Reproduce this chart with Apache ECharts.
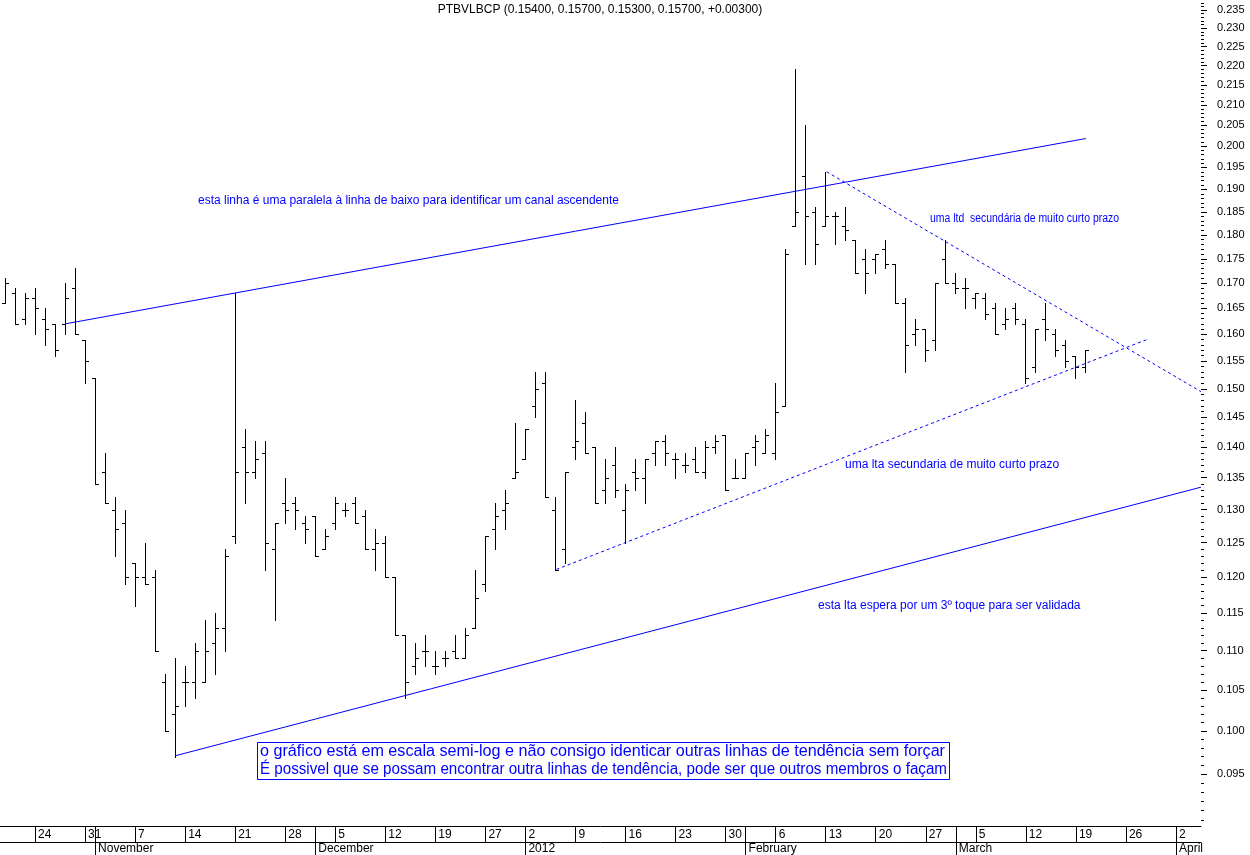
<!DOCTYPE html>
<html><head><meta charset="utf-8">
<script src="https://cdn.jsdelivr.net/npm/echarts@6/dist/echarts.min.js"></script>
<style>html,body{margin:0;padding:0;background:#fff}#c{width:1250px;height:855px}</style>
</head><body><div id="c"></div>
<script>
// ---------- DATA ----------
const firstDay = '2011-10-19';
const lastDay = '2012-04-04';
const holidays = ['2011-12-26'];
const monthNames = ['January','February','March','April','May','June','July','August','September','October','November','December'];

const opens = [0.166,0.168,0.163,0.167,0.163,0.162,0.162,0.169,0.159,0.152,
0.136,0.130,0.128,0.122,0.120,0.120,0.106,0.102,0.106,0.106,
0.106,0.111,0.113,0.126,0.140,0.136,0.139,0.124,0.131,0.131,
0.128,0.129,0.124,0.128,0.130,0.131,0.129,0.124,0.125,0.120,
0.112,0.108,0.110,0.108,0.109,0.110,0.109,0.113,0.119,0.127,
0.130,0.135,0.138,0.147,0.151,0.130,0.124,0.140,0.144,0.140,
0.133,0.137,0.130,0.136,0.135,0.139,0.141,0.138,0.137,0.138,
0.136,0.140,0.142,0.135,0.135,0.140,0.139,0.139,0.147,0.182,
0.193,0.185,0.182,0.184,0.182,0.179,0.175,0.175,0.177,0.174,
0.166,0.160,0.161,0.159,0.175,0.170,0.169,0.167,0.167,0.165,
0.162,0.165,0.162,0.154,0.163,0.160,0.158,0.156,0.154];
const highs = [0.171,0.169,0.168,0.169,0.165,0.162,0.170,0.173,0.159,0.152,
0.139,0.132,0.130,0.122,0.125,0.121,0.107,0.109,0.108,0.111,
0.114,0.115,0.124,0.168,0.143,0.141,0.141,0.128,0.135,0.132,
0.129,0.129,0.127,0.132,0.131,0.132,0.130,0.127,0.126,0.120,
0.112,0.111,0.112,0.110,0.110,0.112,0.113,0.121,0.126,0.131,
0.133,0.144,0.143,0.153,0.153,0.132,0.136,0.148,0.146,0.140,
0.138,0.140,0.134,0.138,0.138,0.141,0.142,0.139,0.139,0.140,
0.141,0.142,0.142,0.138,0.139,0.142,0.143,0.151,0.177,0.219,
0.205,0.186,0.194,0.185,0.186,0.179,0.177,0.176,0.179,0.174,
0.167,0.163,0.161,0.170,0.179,0.172,0.171,0.168,0.168,0.166,
0.165,0.166,0.163,0.161,0.166,0.161,0.159,0.156,0.157];
const lows = [0.166,0.162,0.162,0.160,0.158,0.156,0.160,0.160,0.151,0.134,
0.131,0.123,0.119,0.116,0.119,0.110,0.100,0.097,0.103,0.104,
0.106,0.107,0.110,0.125,0.131,0.135,0.121,0.114,0.128,0.127,
0.125,0.123,0.124,0.127,0.129,0.128,0.124,0.121,0.120,0.112,
0.104,0.107,0.108,0.107,0.108,0.109,0.109,0.113,0.118,0.124,
0.127,0.135,0.138,0.145,0.132,0.121,0.122,0.138,0.139,0.131,
0.131,0.132,0.125,0.133,0.131,0.137,0.137,0.135,0.136,0.136,
0.135,0.139,0.133,0.135,0.135,0.137,0.139,0.138,0.147,0.182,
0.174,0.174,0.182,0.178,0.179,0.172,0.168,0.172,0.173,0.166,
0.153,0.158,0.155,0.157,0.170,0.168,0.165,0.165,0.163,0.160,
0.161,0.162,0.151,0.153,0.159,0.156,0.154,0.152,0.153];
const closes = [0.170,0.162,0.167,0.165,0.161,0.157,0.167,0.160,0.155,0.134,
0.131,0.127,0.120,0.120,0.119,0.110,0.100,0.103,0.106,0.110,
0.110,0.113,0.123,0.136,0.136,0.138,0.125,0.128,0.130,0.130,
0.127,0.123,0.126,0.131,0.130,0.128,0.124,0.125,0.120,0.112,
0.106,0.109,0.110,0.108,0.109,0.109,0.112,0.117,0.126,0.129,
0.131,0.136,0.143,0.150,0.132,0.121,0.136,0.141,0.139,0.131,
0.135,0.133,0.133,0.135,0.138,0.141,0.139,0.138,0.137,0.136,
0.140,0.141,0.133,0.135,0.139,0.141,0.142,0.146,0.176,0.185,
0.184,0.178,0.184,0.184,0.181,0.172,0.172,0.176,0.174,0.166,
0.158,0.161,0.157,0.170,0.170,0.169,0.169,0.168,0.164,0.160,
0.163,0.163,0.152,0.161,0.161,0.157,0.155,0.154,0.157];

// trend lines: [bar index, price]
const channelTop   = [[6, 0.1620], [108, 0.2018]];
const channelBase  = [[17, 0.0971], [119.5, 0.1335]];
const shortLta     = [[55.1, 0.1211], [114.2, 0.1591]];
const shortLtd     = [[82.1, 0.1940], [119.5, 0.1495]];

const yMajorTicks = [0.095,0.100,0.105,0.110,0.115,0.120,0.125,0.130,0.135,0.140,0.145,0.150,0.155,0.160,0.165,0.170,0.175,0.180,0.185,0.190,0.195,0.200,0.205,0.210,0.215,0.220,0.225,0.230,0.235];
const yMinorStep = 0.001, yMinorFrom = 0.090, yMinorTo = 0.237;
const yRange = [0.08935, 0.2378];

const titleText = 'PTBVLBCP (0.15400, 0.15700, 0.15300, 0.15700, +0.00300)';
const notes = [
  {text:'esta linha é uma paralela à linha de baixo para identificar um canal ascendente', x:198, y:201, size:12},
  {text:'uma ltd  secundária de muito curto prazo', x:930, y:219, size:12, width:189},
  {text:'uma lta secundaria de muito curto prazo', x:845, y:465, size:12},
  {text:'esta lta espera por um 3º toque para ser validada', x:818, y:606, size:12}
];
const boxLines = ['o gráfico está em escala semi-log e não consigo identicar outras linhas de tendência sem forçar',
                  'É possivel que se possam encontrar outra linhas de tendência, pode ser que outros membros o façam'];

// ---------- BUILD ----------
const categories = [];
for (let d = new Date(firstDay + 'T00:00:00Z'); d <= new Date(lastDay + 'T00:00:00Z'); d.setUTCDate(d.getUTCDate() + 1)) {
  const dow = d.getUTCDay(), s = d.toISOString().slice(0, 10);
  if (dow === 0 || dow === 6 || holidays.includes(s)) continue;
  categories.push(s);
}
const dow = s => new Date(s + 'T00:00:00Z').getUTCDay();
const isWeekStart = i => i > 0 && dow(categories[i]) <= dow(categories[i - 1]);
const isMonthStart = i => i > 0 && categories[i].slice(5, 7) !== categories[i - 1].slice(5, 7);

const L = Math.log;
const ohlc = opens.map((o, i) => [i, L(o), L(highs[i]), L(lows[i]), L(closes[i])]);
const toLn = arr => arr.map(p => [p[0], L(p[1])]);
const minorTicks = [];
for (let k = Math.round(yMinorFrom * 1000); k <= Math.round(yMinorTo * 1000); k++) minorTicks.push(L(k / 1000));

const FONT = '"Liberation Sans", Arial, sans-serif';
const measure = (txt, font) => { const cv = document.createElement('canvas').getContext('2d'); cv.font = font; return cv.measureText(txt).width; };
const fitText = (txt, x, y, font, width, color) => ({
  type: 'text', x: x, y: y, scaleX: width ? width / measure(txt, font) : 1, originX: 0,
  style: {text: txt, fill: color, font: font, align: 'left', verticalAlign: 'middle'}
});

const chart = echarts.init(document.getElementById('c'), null, {renderer: 'canvas'});

const lineSeries = (data, dashed) => ({
  type: 'line', xAxisIndex: 2, yAxisIndex: 0, data: toLn(data), symbol: 'none', silent: true,
  animation: false,
  lineStyle: {color: '#0000ff', width: 1, type: dashed ? [3, 3] : 'solid'}
});

const graphics = [
  {type: 'text', x: 600, y: 10, style: {text: titleText, fill: '#000', font: '12px ' + FONT, align: 'center', verticalAlign: 'middle'}},
  ...notes.map(n => fitText(n.text, n.x, n.y, n.size + 'px ' + FONT, n.width, '#0000ff')),
  {type: 'rect', shape: {x: 257.5, y: 742.5, width: 692, height: 37}, style: {fill: 'rgba(0,0,0,0)', stroke: '#0000ff', lineWidth: 1}},
  fitText(boxLines[0], 260, 752, '16px ' + FONT, 685, '#0000ff'),
  fitText(boxLines[1], 260, 770, '16px ' + FONT, 687, '#0000ff')
];

chart.setOption({
  animation: false,
  backgroundColor: '#fff',
  grid: {left: 0, right: 49, top: 0, bottom: 29, containLabel: false},
  xAxis: [
    {type: 'category', data: categories, position: 'bottom', boundaryGap: true,
     axisLine: {show: true, onZero: false, lineStyle: {color: '#000', width: 1}},
     axisTick: {show: true, alignWithLabel: true, length: 16, interval: (i) => isWeekStart(i) || isMonthStart(i), lineStyle: {color: '#000'}},
     axisLabel: {show: true, interval: (i) => isWeekStart(i), formatter: v => String(+v.slice(8)), align: 'left', padding: [0, 0, 0, 3], margin: 3, color: '#000', fontSize: 12, fontFamily: FONT},
     splitLine: {show: false}},
    {type: 'category', data: categories, position: 'bottom', offset: 16, boundaryGap: true,
     axisLine: {show: true, onZero: false, lineStyle: {color: '#000', width: 1}},
     axisTick: {show: true, alignWithLabel: true, length: 14, interval: (i) => isMonthStart(i), lineStyle: {color: '#000'}},
     axisLabel: {show: true, interval: (i) => isMonthStart(i), formatter: v => v.slice(5, 7) === '01' ? v.slice(0, 4) : monthNames[+v.slice(5, 7) - 1], align: 'left', padding: [0, 0, 0, 3], margin: 1, color: '#000', fontSize: 12, fontFamily: FONT},
     splitLine: {show: false}},
    {type: 'value', min: -0.5, max: categories.length - 0.5, show: false, axisLine: {onZero: false}}
  ],
  yAxis: [
    {type: 'value', position: 'right', min: L(yRange[0]), max: L(yRange[1]), scale: true,
     axisLine: {show: false, onZero: false},
     axisTick: {show: true, length: 6, customValues: yMajorTicks.map(L), lineStyle: {color: '#000'}},
     axisLabel: {show: true, customValues: yMajorTicks.map(L), formatter: v => Math.exp(v).toFixed(3), margin: 16, color: '#000', fontSize: 11, fontFamily: FONT},
     splitLine: {show: false}},
    {type: 'value', position: 'right', min: L(yRange[0]), max: L(yRange[1]), scale: true,
     axisLine: {show: false, onZero: false},
     axisTick: {show: true, length: 3, customValues: minorTicks, lineStyle: {color: '#000'}},
     axisLabel: {show: false},
     splitLine: {show: false}}
  ],
  series: [
    {type: 'custom', xAxisIndex: 0, yAxisIndex: 0, data: ohlc, silent: true,
     encode: {x: 0, y: [1, 2, 3, 4]},
     renderItem: (params, api) => {
       const i = api.value(0);
       const o = api.coord([i, api.value(1)]), h = api.coord([i, api.value(2)]);
       const lo = api.coord([i, api.value(3)]), c = api.coord([i, api.value(4)]);
       const xp = Math.floor(o[0]);
       const r = v => Math.round(v) + 0.5;
       const st = {stroke: '#000', lineWidth: 1};
       return {type: 'group', children: [
         {type: 'line', shape: {x1: xp + 0.5, y1: Math.round(h[1]), x2: xp + 0.5, y2: Math.round(lo[1]) + 1}, style: st},
         {type: 'line', shape: {x1: xp - 3, y1: r(o[1]), x2: xp + 1, y2: r(o[1])}, style: st},
         {type: 'line', shape: {x1: xp, y1: r(c[1]), x2: xp + 4, y2: r(c[1])}, style: st}
       ]};
     }},
    lineSeries(channelTop, false),
    lineSeries(channelBase, false),
    lineSeries(shortLta, true),
    lineSeries(shortLtd, true)
  ],
  graphic: graphics
});
</script>
</body></html>
